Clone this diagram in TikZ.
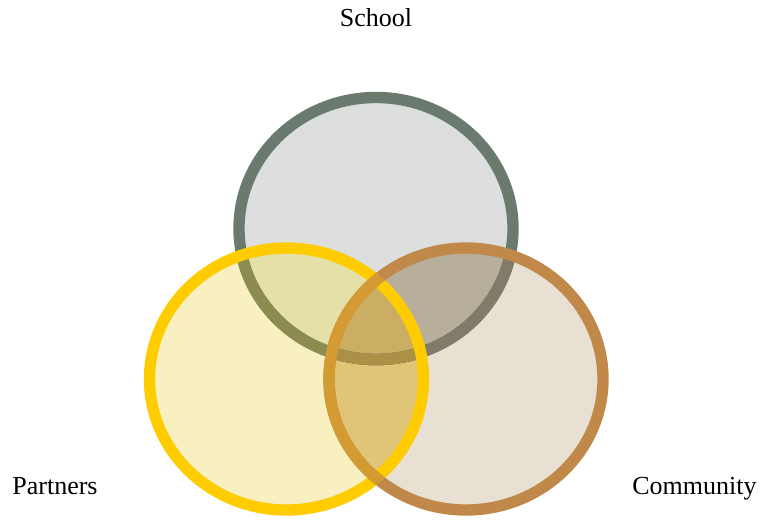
\documentclass[tikz,border=0pt]{standalone}
\usepackage{fontspec}
\setmainfont{Liberation Serif}
\usepackage{tikz}
\usetikzlibrary{positioning}
\definecolor{schoolring}{RGB}{107,122,110}
\definecolor{schoolfill}{RGB}{220,223,222}
\definecolor{partnerring}{RGB}{255,204,0}
\definecolor{partnerfill}{RGB}{248,240,192}
\definecolor{communityring}{RGB}{192,137,74}
\definecolor{communityfill}{RGB}{232,224,210}
\definecolor{spfill}{RGB}{228,224,168}
\definecolor{scfill}{RGB}{184,174,156}
\definecolor{pcfill}{RGB}{224,196,120}
\definecolor{spcfill}{RGB}{203,174,100}
\definecolor{schoolringp}{RGB}{140,140,80}
\definecolor{schoolringc}{RGB}{128,124,105}
\definecolor{schoolringpc}{RGB}{172,144,70}
\definecolor{communityringp}{RGB}{212,155,50}
\begin{document}
\begin{tikzpicture}[x=0.75pt, y=-0.75pt,
  ring/.style={line width=8.5pt},
  setlabel/.style={font=\fontsize{19.5}{23}\selectfont, anchor=base}]
\useasboundingbox (0,0) rectangle (761,519);
\def\rx{137}\def\ry{131}
\coordinate (s) at (376,228.5);
\coordinate (p) at (286.5,379);
\coordinate (c) at (466,379);
% fills of the sets and of their overlaps
\fill [schoolfill] (s) ellipse [x radius=\rx, y radius=\ry];
\fill [partnerfill] (p) ellipse [x radius=\rx, y radius=\ry];
\fill [communityfill] (c) ellipse [x radius=\rx, y radius=\ry];
\begin{scope}
  \clip (s) ellipse [x radius=\rx, y radius=\ry];
  \fill [spfill] (p) ellipse [x radius=\rx, y radius=\ry];
  \fill [scfill] (c) ellipse [x radius=\rx, y radius=\ry];
\end{scope}
\begin{scope}
  \clip (p) ellipse [x radius=\rx, y radius=\ry];
  \fill [pcfill] (c) ellipse [x radius=\rx, y radius=\ry];
  \clip (s) ellipse [x radius=\rx, y radius=\ry];
  \fill [spcfill] (c) ellipse [x radius=\rx, y radius=\ry];
\end{scope}
% school ring, tinted where the other sets lie over it
\draw [ring, schoolring] (s) ellipse [x radius=\rx, y radius=\ry];
\begin{scope}
  \clip (p) ellipse [x radius=\rx, y radius=\ry];
  \draw [ring, schoolringp] (s) ellipse [x radius=\rx, y radius=\ry];
\end{scope}
\begin{scope}
  \clip (c) ellipse [x radius=\rx, y radius=\ry];
  \draw [ring, schoolringc] (s) ellipse [x radius=\rx, y radius=\ry];
  \clip (p) ellipse [x radius=\rx, y radius=\ry];
  \draw [ring, schoolringpc] (s) ellipse [x radius=\rx, y radius=\ry];
\end{scope}
% partners and community rings
\draw [ring, partnerring] (p) ellipse [x radius=\rx, y radius=\ry];
\draw [ring, communityring] (c) ellipse [x radius=\rx, y radius=\ry];
\begin{scope}
  \clip (p) ellipse [x radius=\rx+5.5, y radius=\ry+5.5];
  \draw [ring, communityringp] (c) ellipse [x radius=\rx, y radius=\ry];
\end{scope}
% labels
\node[setlabel] (school) at (376,26) {School};
\node[setlabel] (partners) at (55,494) {Partners};
\node[setlabel] (community) at (694.5,494) {Community};
\end{tikzpicture}
\end{document}
